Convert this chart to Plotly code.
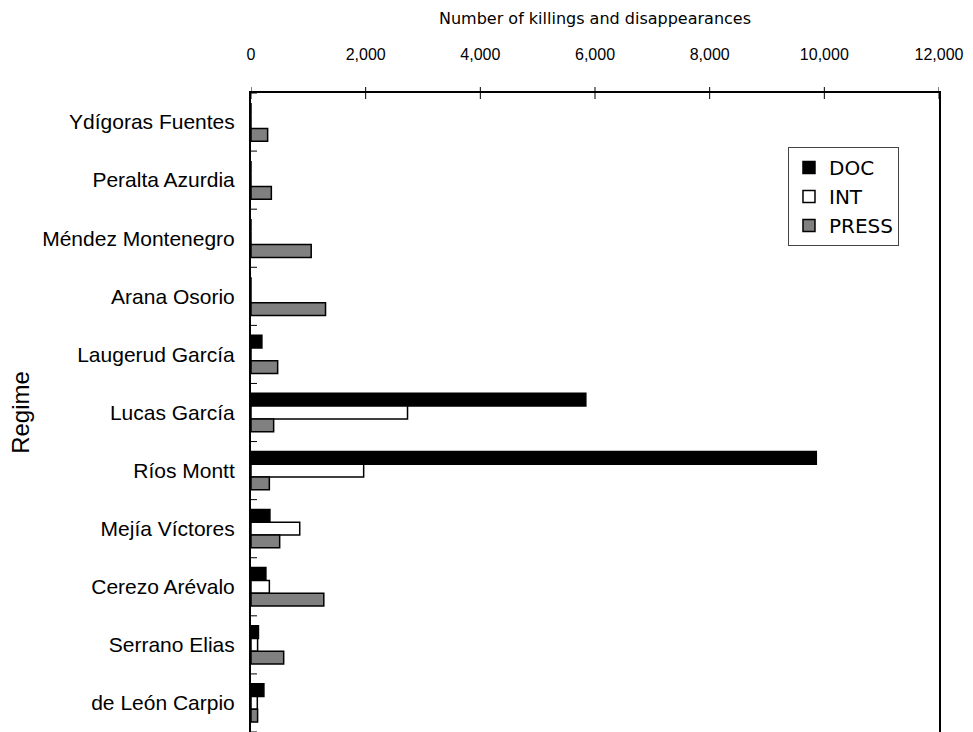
import plotly.graph_objects as go

regimes = ["Ydígoras Fuentes", "Peralta Azurdia", "Méndez Montenegro", "Arana Osorio",
           "Laugerud García", "Lucas García", "Ríos Montt", "Mejía Víctores",
           "Cerezo Arévalo", "Serrano Elias", "de León Carpio"]
doc = [0, 0, 0, 0, 190, 5840, 9860, 330, 260, 130, 225]
intv = [0, 0, 0, 0, 0, 2730, 1965, 850, 320, 115, 110]
press = [290, 355, 1050, 1300, 465, 395, 320, 500, 1270, 570, 115]
x_ticks = [0, 2000, 4000, 6000, 8000, 10000, 12000]

fig = go.Figure()
fig.add_trace(go.Bar(name="DOC", y=regimes, x=doc, orientation="h",
                     marker=dict(color="#000000", line=dict(color="#000000", width=1.5))))
fig.add_trace(go.Bar(name="INT", y=regimes, x=intv, orientation="h",
                     marker=dict(color="#ffffff", line=dict(color="#000000", width=1.5))))
fig.add_trace(go.Bar(name="PRESS", y=regimes, x=press, orientation="h",
                     marker=dict(color="#808080", line=dict(color="#000000", width=1.5))))

shapes = []
for i in range(len(regimes) + 1):
    shapes.append(dict(type="line", xref="x", yref="y", xsizemode="pixel", xanchor=0,
                       x0=-6, x1=6, y0=i - 0.5, y1=i - 0.5,
                       line=dict(color="#000000", width=1)))
for t in x_ticks:
    shapes.append(dict(type="line", xref="x", yref="paper", ysizemode="pixel", yanchor=1,
                       x0=t, x1=t, y0=-6, y1=6, line=dict(color="#000000", width=1)))

fig.update_layout(
    width=973, height=732,
    margin=dict(l=251, r=34, t=93, b=0, pad=0),
    paper_bgcolor="white", plot_bgcolor="white",
    barmode="group", bargap=0.34, bargroupgap=0,
    shapes=shapes,
    showlegend=True,
    legend=dict(x=0.7805, y=0.9156, xanchor="left", yanchor="top",
                bgcolor="white", bordercolor="#444444", borderwidth=1,
                font=dict(family="DejaVu Sans", size=20, color="#000000"),
                traceorder="normal", itemwidth=30),
    xaxis=dict(side="top", range=[0, 12000], tickvals=x_ticks,
               tickformat=",d", ticks="", showgrid=False, zeroline=False,
               showline=True, linecolor="#000000", linewidth=2,
               tickfont=dict(family="Liberation Sans, Arial", size=16, color="#000000"),
               ticklabelstandoff=25,
               title=dict(text="Number of killings and disappearances", standoff=17,
                          font=dict(family="DejaVu Sans", size=16, color="#000000"))),
    yaxis=dict(type="category", categoryarray=regimes, range=[len(regimes) - 0.5, -0.5],
               ticks="", showgrid=False, zeroline=False,
               showline=True, mirror=True, linecolor="#000000", linewidth=2,
               tickfont=dict(family="Liberation Sans, Arial", size=21, color="#000000"),
               ticklabelstandoff=10,
               title=dict(text="Regime", standoff=6,
                          font=dict(family="Liberation Sans, Arial", size=24, color="#000000"))),
)

fig.write_html("out.html", config={"displayModeBar": False},
               post_script="document.body.style.margin='0';")
